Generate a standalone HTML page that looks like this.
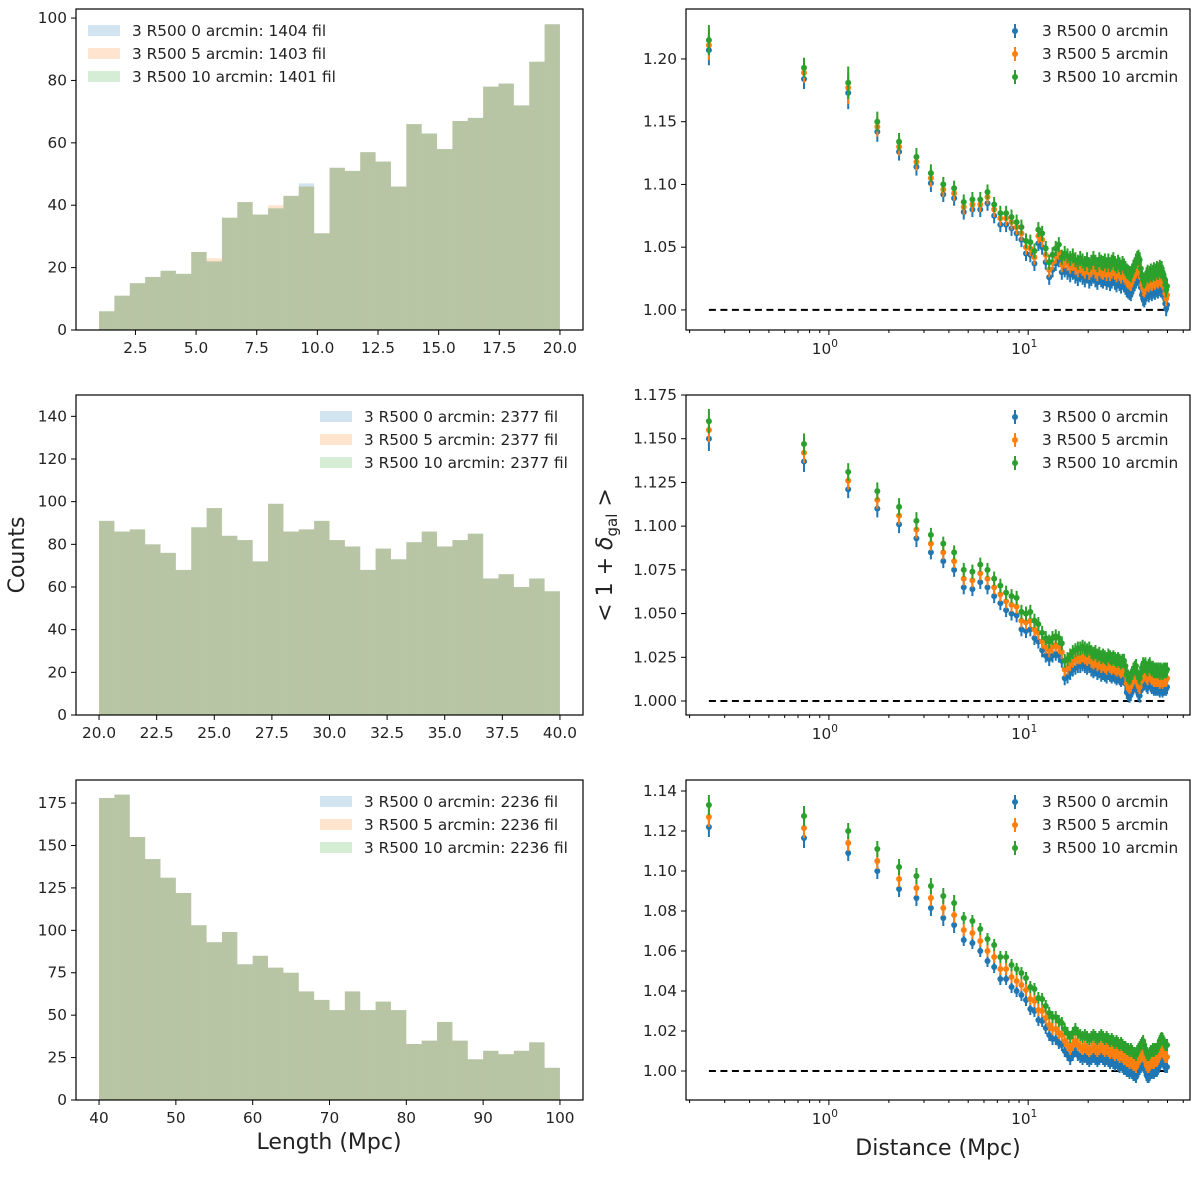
<!DOCTYPE html>
<html><head><meta charset="utf-8"><style>
html,body{margin:0;padding:0;background:#fff;}
svg text{font-family:"DejaVu Sans","Liberation Sans",sans-serif;fill:#222;}
</style></head><body>
<svg id="fig" width="1200" height="1172" viewBox="0 0 1200 1172" xmlns="http://www.w3.org/2000/svg"></svg>
<script>
// ---------- Histogram data ----------
const histTopBlue   = [6,11,15,17,19,18,25,22,36,41,37,39,43,47,31,52,51,57,54,46,66,63,58,67,68,78,79,72,86,98];
const histTopOrange = [6,11,15,17,19,18,25,23,36,41,37,40,43,46,31,52,51,57,54,46,66,63,58,67,68,78,79,72,86,98];
const histTopGreen  = [6,11,15,17,19,18,25,22,36,41,37,39,43,46,31,52,51,57,54,46,66,63,58,67,68,78,79,72,86,98];
const histMid = [91,86,87,80,76,68,88,97,84,82,72,99,86,87,91,82,79,68,78,73,81,86,79,82,85,64,66,60,64,58];
const histBot = [178,180,155,142,131,122,103,93,99,80,85,78,75,64,59,53,64,53,58,53,33,35,46,35,24,29,27,29,34,19];
const histTopTicks = [2.5,5.0,7.5,10.0,12.5,15.0,17.5,20.0];
const histMidTicks = [20.0,22.5,25.0,27.5,30.0,32.5,35.0,37.5,40.0];
const histBotTicks = [40,50,60,70,80,90,100];
const histTopYTicks = [0,20,40,60,80,100];
const histMidYTicks = [0,20,40,60,80,100,120,140];
const histBotYTicks = [0,25,50,75,100,125,150,175];
const legTop = ["3 R500 0 arcmin: 1404 fil","3 R500 5 arcmin: 1403 fil","3 R500 10 arcmin: 1401 fil"];
const legMid = ["3 R500 0 arcmin: 2377 fil","3 R500 5 arcmin: 2377 fil","3 R500 10 arcmin: 2377 fil"];
const legBot = ["3 R500 0 arcmin: 2236 fil","3 R500 5 arcmin: 2236 fil","3 R500 10 arcmin: 2236 fil"];

// ---------- Profile data ----------
const nPoints = 100;
const topBlue = [1.207,1.184,1.173,1.142,1.126,1.114,1.101,1.092,1.089,1.078,1.080,1.080,
1.085,1.075,1.068,1.068,1.065,1.061,1.056,1.045,1.044,1.037,1.053,1.050,1.038,1.026,1.032,1.037,1.040,1.030,
1.032,1.030,1.028,1.030,1.027,1.025,1.028,1.026,1.024,1.027,1.023,1.025,1.027,1.024,1.022,1.026,1.024,1.023,1.025,1.022,
1.024,1.021,1.023,1.025,1.022,1.020,1.023,1.021,1.019,1.022,1.020,1.018,1.016,1.015,1.014,1.013,1.016,1.019,1.021,1.023,
1.025,1.026,1.024,1.018,1.012,1.009,1.008,1.010,1.013,1.015,1.012,1.014,1.016,1.013,1.015,1.017,1.014,1.016,1.018,1.015,
1.017,1.019,1.016,1.018,1.015,1.013,1.010,1.005,1.001,1.004];
const topOrange = [1.211,1.189,1.177,1.146,1.130,1.118,1.105,1.096,1.093,1.082,1.084,1.084,
1.090,1.080,1.073,1.073,1.070,1.066,1.061,1.050,1.049,1.042,1.059,1.056,1.044,1.032,1.038,1.043,1.046,1.036,
1.039,1.037,1.035,1.037,1.034,1.032,1.035,1.033,1.031,1.034,1.030,1.032,1.034,1.031,1.029,1.033,1.031,1.030,1.032,1.029,
1.032,1.029,1.031,1.033,1.030,1.028,1.031,1.029,1.027,1.030,1.028,1.026,1.024,1.023,1.022,1.021,1.024,1.027,1.029,1.031,
1.033,1.034,1.032,1.026,1.020,1.017,1.016,1.018,1.021,1.023,1.020,1.022,1.024,1.021,1.023,1.025,1.022,1.024,1.026,1.023,
1.025,1.027,1.024,1.026,1.023,1.021,1.018,1.013,1.009,1.012];
const topGreen = [1.215,1.193,1.181,1.150,1.134,1.122,1.109,1.100,1.097,1.086,1.088,1.088,
1.094,1.084,1.077,1.077,1.074,1.070,1.066,1.055,1.054,1.047,1.064,1.061,1.049,1.038,1.044,1.049,1.052,1.042,
1.045,1.043,1.041,1.043,1.040,1.038,1.041,1.039,1.037,1.040,1.036,1.038,1.041,1.038,1.036,1.040,1.038,1.037,1.039,1.036,
1.039,1.036,1.038,1.040,1.037,1.035,1.038,1.036,1.034,1.037,1.035,1.033,1.031,1.030,1.029,1.028,1.031,1.034,1.036,1.039,
1.041,1.042,1.040,1.033,1.027,1.024,1.023,1.025,1.028,1.030,1.027,1.029,1.031,1.028,1.030,1.032,1.029,1.031,1.033,1.030,
1.032,1.034,1.031,1.033,1.030,1.028,1.025,1.020,1.016,1.019];
const midBlue = [1.150,1.137,1.121,1.110,1.101,1.093,1.085,1.080,1.075,1.065,1.064,1.068,
1.065,1.060,1.056,1.052,1.050,1.049,1.041,1.040,1.041,1.036,1.034,1.029,1.026,1.024,1.026,1.027,1.026,1.023,
1.013,1.014,1.016,1.018,1.019,1.020,1.020,1.021,1.020,1.019,1.020,1.018,1.017,1.018,1.016,1.017,1.015,1.016,1.015,1.014,
1.016,1.015,1.014,1.015,1.014,1.013,1.014,1.013,1.012,1.013,1.013,1.010,1.005,1.004,1.003,1.004,1.006,1.008,1.009,1.010,
1.006,1.004,1.003,1.006,1.009,1.011,1.010,1.011,1.009,1.008,1.010,1.011,1.009,1.008,1.009,1.007,1.008,1.007,1.008,1.007,
1.008,1.006,1.008,1.007,1.006,1.008,1.007,1.008,1.007,1.008];
const midOrange = [1.155,1.142,1.126,1.115,1.106,1.098,1.090,1.085,1.080,1.070,1.069,1.073,
1.070,1.065,1.061,1.057,1.055,1.054,1.046,1.045,1.046,1.041,1.039,1.034,1.031,1.029,1.031,1.032,1.031,1.028,
1.018,1.019,1.021,1.023,1.024,1.025,1.025,1.026,1.025,1.024,1.025,1.023,1.022,1.023,1.021,1.022,1.020,1.021,1.020,1.019,
1.021,1.020,1.019,1.020,1.019,1.018,1.019,1.018,1.017,1.018,1.018,1.015,1.010,1.009,1.008,1.009,1.011,1.013,1.014,1.015,
1.011,1.009,1.008,1.011,1.014,1.016,1.015,1.016,1.014,1.013,1.015,1.016,1.014,1.013,1.014,1.012,1.013,1.012,1.013,1.012,
1.013,1.011,1.013,1.012,1.011,1.013,1.012,1.013,1.012,1.013];
const midGreen = [1.160,1.147,1.131,1.120,1.111,1.103,1.095,1.090,1.085,1.075,1.074,1.078,
1.075,1.070,1.066,1.062,1.060,1.059,1.051,1.050,1.051,1.046,1.044,1.039,1.036,1.034,1.036,1.037,1.036,1.033,
1.023,1.024,1.026,1.028,1.029,1.030,1.030,1.031,1.030,1.029,1.030,1.028,1.027,1.028,1.026,1.027,1.025,1.026,1.025,1.024,
1.026,1.025,1.024,1.025,1.024,1.023,1.024,1.023,1.022,1.023,1.023,1.020,1.015,1.014,1.013,1.014,1.016,1.018,1.019,1.020,
1.016,1.014,1.013,1.016,1.019,1.021,1.020,1.021,1.019,1.018,1.020,1.021,1.019,1.018,1.019,1.017,1.018,1.017,1.018,1.017,
1.018,1.016,1.018,1.017,1.016,1.018,1.017,1.018,1.017,1.018];
const botBlue = [1.122,1.1165,1.109,1.100,1.091,1.0865,1.0815,1.0765,1.073,1.0655,1.064,1.060,
1.055,1.052,1.046,1.046,1.042,1.040,1.038,1.0355,1.031,1.030,1.0255,1.025,1.0215,1.018,1.016,1.016,1.014,1.013,
1.010,1.008,1.006,1.008,1.010,1.008,1.007,1.006,1.007,1.006,1.005,1.006,1.007,1.006,1.005,1.006,1.007,1.006,1.005,1.006,
1.005,1.004,1.005,1.004,1.003,1.004,1.003,1.002,1.003,1.002,1.001,1.001,1.000,1.000,0.999,1.000,0.999,0.998,0.998,0.997,
0.999,1.000,1.001,1.002,1.003,1.004,1.002,1.000,0.998,0.997,0.997,0.998,0.999,0.999,1.000,0.999,1.000,1.000,1.000,1.001,
1.002,1.004,1.005,1.0055,1.005,1.004,1.003,1.002,1.002,1.002];
const botOrange = [1.127,1.1215,1.114,1.105,1.096,1.0915,1.0865,1.0815,1.078,1.0705,1.069,1.065,
1.060,1.057,1.051,1.051,1.047,1.045,1.043,1.0405,1.036,1.035,1.0305,1.030,1.0265,1.023,1.021,1.021,1.019,1.018,
1.015,1.013,1.011,1.013,1.015,1.013,1.012,1.011,1.012,1.011,1.010,1.011,1.012,1.011,1.010,1.011,1.012,1.011,1.010,1.011,
1.010,1.009,1.010,1.009,1.008,1.009,1.008,1.007,1.008,1.007,1.006,1.006,1.005,1.005,1.004,1.005,1.004,1.003,1.003,1.002,
1.004,1.005,1.006,1.007,1.008,1.009,1.007,1.005,1.003,1.002,1.002,1.003,1.004,1.004,1.005,1.004,1.005,1.005,1.005,1.006,
1.007,1.009,1.010,1.0105,1.010,1.009,1.008,1.007,1.007,1.007];
const botGreen = [1.133,1.1275,1.120,1.111,1.102,1.0975,1.0925,1.0875,1.084,1.0765,1.075,1.071,
1.066,1.063,1.057,1.057,1.053,1.051,1.049,1.0465,1.042,1.041,1.0365,1.036,1.0325,1.029,1.027,1.027,1.025,1.024,
1.021,1.019,1.017,1.019,1.021,1.019,1.018,1.017,1.018,1.017,1.016,1.017,1.018,1.017,1.016,1.017,1.018,1.017,1.016,1.017,
1.016,1.015,1.016,1.015,1.014,1.015,1.014,1.013,1.014,1.013,1.012,1.012,1.011,1.011,1.010,1.011,1.010,1.009,1.009,1.008,
1.010,1.011,1.012,1.013,1.014,1.015,1.013,1.011,1.009,1.008,1.008,1.009,1.010,1.010,1.011,1.010,1.011,1.011,1.011,1.012,
1.013,1.015,1.016,1.0165,1.016,1.015,1.014,1.013,1.013,1.013];
const topErrHead = [0.012,0.008,0.013,0.008,0.007,0.007,0.007,0.006,0.006,0.006,0.006,0.006];
const topErrTail = 0.006;
const midErrHead = [0.007,0.006,0.005,0.005,0.005,0.005,0.004,0.004,0.004,0.004,0.004,0.004];
const midErrTail = 0.004;
const botErrHead = [0.005,0.005,0.004,0.004,0.004,0.004,0.004,0.004,0.004,0.003,0.003,0.003];
const botErrTail = 0.003;
const topRYTicks = [1.00,1.05,1.10,1.15,1.20];
const midRYTicks = [1.000,1.025,1.050,1.075,1.100,1.125,1.150,1.175];
const botRYTicks = [1.00,1.02,1.04,1.06,1.08,1.10,1.12,1.14];
const legR = ["3 R500 0 arcmin","3 R500 5 arcmin","3 R500 10 arcmin"];

const NS="http://www.w3.org/2000/svg";
const svg=document.getElementById('fig');
const C=['#1f77b4','#ff7f0e','#2ca02c'];
const FS=15.3;
function el(tag,attrs,parent){const e=document.createElementNS(NS,tag);for(const k in attrs)e.setAttribute(k,attrs[k]);(parent||svg).appendChild(e);return e;}

const distances=[];for(let k=0;k<nPoints;k++)distances.push(0.25+0.5*k);

function histPanel(name,box,xmin,xmax,ymax,lo,hi,series,xt,yt,xdec,leg,legX){
  const g=el('g',{});
  
  
  const sx=v=>box.x0+(v-xmin)/(xmax-xmin)*(box.x1-box.x0);
  const sy=v=>box.y1-v/ymax*(box.y1-box.y0);
  series.forEach((arr,si)=>{
    const n=arr.length,w=(hi-lo)/n;
    arr.forEach((v,i)=>{
      const r=el('rect',{x:sx(lo+i*w),y:sy(v),width:sx(lo+(i+1)*w)-sx(lo+i*w),height:sy(0)-sy(v),fill:C[si],'fill-opacity':0.2},g);
      
      
    });
  });
  el('rect',{x:box.x0,y:box.y0,width:box.x1-box.x0,height:box.y1-box.y0,fill:'none',stroke:'#000','stroke-width':1.2},g);
  xt.forEach(t=>{const x=sx(t);el('line',{x1:x,x2:x,y1:box.y1,y2:box.y1+5,stroke:'#000'},g);
    const tx=el('text',{x:x,y:box.y1+23,'font-size':FS,'text-anchor':'middle'},g);tx.textContent=t.toFixed(xdec);
    });
  yt.forEach(t=>{const y=sy(t);el('line',{x1:box.x0-5,x2:box.x0,y1:y,y2:y,stroke:'#000'},g);
    const tx=el('text',{x:box.x0-9,y:y+5,'font-size':FS,'text-anchor':'end'},g);tx.textContent=t;
    });
  const lg=el('g',{},g);
  
  
  leg.forEach((s,i)=>{const y=box.y0+22+i*23;
    el('rect',{x:legX,y:y-6,width:32,height:11,fill:C[i],'fill-opacity':0.2},lg);
    const tx=el('text',{x:legX+44,y:y+5,'font-size':FS},lg);tx.textContent=s;
    });
}

function profPanel(name,box,ymin,ymax,series,errHead,errTail,yt,ydec){
  const g=el('g',{});
  
  
  const lmin=-0.717,lmax=1.812;
  const sx=v=>box.x0+(Math.log10(v)-lmin)/(lmax-lmin)*(box.x1-box.x0);
  const sy=v=>box.y1-(v-ymin)/(ymax-ymin)*(box.y1-box.y0);
  const dl=el('line',{x1:sx(distances[0]),x2:sx(distances[nPoints-1]),y1:sy(1),y2:sy(1),stroke:'#000','stroke-width':2,'stroke-dasharray':'7,4.5'},g);
  
  series.forEach((arr,si)=>{
    arr.forEach((v,i)=>{const x=sx(distances[i]);const e=i<errHead.length?errHead[i]:errTail;
      const ln=el('line',{x1:x,x2:x,y1:sy(v-e),y2:sy(v+e),stroke:C[si],'stroke-width':2},g);
      
      const c=el('circle',{cx:x,cy:sy(v),r:3,fill:C[si]},g);
      });
  });
  el('rect',{x:box.x0,y:box.y0,width:box.x1-box.x0,height:box.y1-box.y0,fill:'none',stroke:'#000','stroke-width':1.2},g);
  for(let d=-1;d<=1;d++)for(let m=1;m<10;m++){const v=m*Math.pow(10,d);const l=Math.log10(v);if(l<lmin||l>lmax)continue;
    const x=sx(v);el('line',{x1:x,x2:x,y1:box.y1,y2:box.y1+(m===1?5:3),stroke:'#000'},g);
    if(m===1&&d>=0){const tx=el('text',{x:x-4,y:box.y1+24,'font-size':FS,'text-anchor':'middle'},g);
      tx.textContent='10';const sp=el('tspan',{dy:-7,'font-size':10.5},tx);sp.textContent=String(d);
      }}
  yt.forEach(t=>{const y=sy(t);el('line',{x1:box.x0-5,x2:box.x0,y1:y,y2:y,stroke:'#000'},g);
    const tx=el('text',{x:box.x0-9,y:y+5,'font-size':FS,'text-anchor':'end'},g);tx.textContent=t.toFixed(ydec);
    });
  const lg=el('g',{},g);
  
  
  legR.forEach((s,i)=>{const y=box.y0+22+i*23;
    el('line',{x1:1015,x2:1015,y1:y-7,y2:y+7,stroke:C[i],'stroke-width':2},lg);
    el('circle',{cx:1015,cy:y,r:3,fill:C[i]},lg);
    const tx=el('text',{x:1042,y:y+5,'font-size':FS},lg);tx.textContent=s;
    });
}

const L={x0:76,x1:583},R={x0:686,x1:1190};
histPanel('hist-length-1-20',{...L,y0:9,y1:330},0.05,20.95,102.9,1,20,[histTopBlue,histTopOrange,histTopGreen],histTopTicks,histTopYTicks,1,legTop,88);
histPanel('hist-length-20-40',{...L,y0:395,y1:715},19,41,150,20,40,[histMid,histMid,histMid],histMidTicks,histMidYTicks,1,legMid,320);
histPanel('hist-length-40-100',{...L,y0:780,y1:1100},37,103,188.6,40,100,[histBot,histBot,histBot],histBotTicks,histBotYTicks,0,legBot,320);
profPanel('profile-1-20',{...R,y0:9,y1:330},0.984,1.2398,[topBlue,topOrange,topGreen],topErrHead,topErrTail,topRYTicks,2);
profPanel('profile-20-40',{...R,y0:395,y1:715},0.992,1.175,[midBlue,midOrange,midGreen],midErrHead,midErrTail,midRYTicks,3);
profPanel('profile-40-100',{...R,y0:780,y1:1100},0.9855,1.1455,[botBlue,botOrange,botGreen],botErrHead,botErrTail,botRYTicks,2);

let t=el('text',{x:0,y:0,'font-size':22,'text-anchor':'middle',transform:'translate(24,555) rotate(-90)'});t.textContent='Counts';

t=el('text',{x:0,y:0,'font-size':22,'text-anchor':'middle',transform:'translate(612,555) rotate(-90)'});

let s1=el('tspan',{},t);s1.textContent='< 1 + ';
let s2=el('tspan',{'font-style':'italic'},t);s2.textContent='δ';
let s3=el('tspan',{dy:5,'font-size':15},t);s3.textContent='gal';
let s4=el('tspan',{dy:-5},t);s4.textContent=' >';
t=el('text',{x:329,y:1149,'font-size':22,'text-anchor':'middle'});t.textContent='Length (Mpc)';

t=el('text',{x:938,y:1155,'font-size':22,'text-anchor':'middle'});t.textContent='Distance (Mpc)';

</script>
</body></html>
